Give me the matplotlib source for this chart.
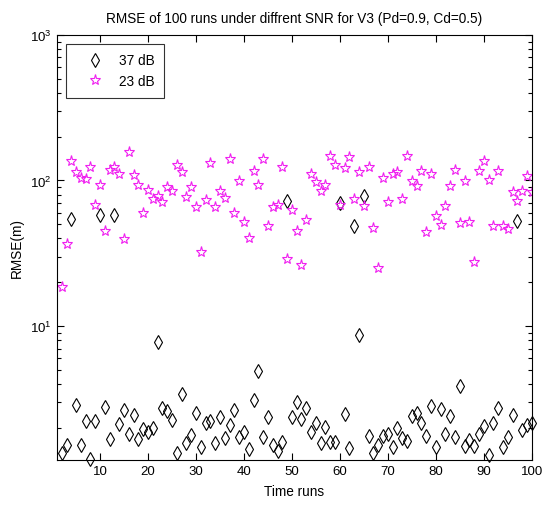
import numpy as np
import matplotlib
matplotlib.use("Agg")
import matplotlib.pyplot as plt
from matplotlib.ticker import LogLocator, FixedLocator, NullFormatter

plt.rcParams['font.family'] = ['Liberation Sans', 'DejaVu Sans']
plt.rcParams['mathtext.fontset'] = 'custom'
plt.rcParams['mathtext.rm'] = 'Liberation Sans'
plt.rcParams['mathtext.default'] = 'regular'

# run index (x=1 has no visible marker in the reference)
runs = list(range(2, 101))

# 37 dB series
rmse_37 = [1.33, 1.52, 54, 2.86, 1.52, 2.23, 1.22, 2.21, 58, 2.76,
           1.67, 58, 2.12, 2.66, 1.81, 2.45, 1.67, 1.96, 1.86, 1.98,
           7.7, 2.72, 2.62, 2.27, 1.35, 3.41, 1.58, 1.78, 2.51, 1.47,
           2.15, 2.21, 1.58, 2.38, 1.69, 2.1, 2.66, 1.72, 1.86, 1.43,
           3.1, 4.93, 1.72, 2.38, 1.52, 1.39, 1.6, 72.7, 2.36, 3.02,
           2.3, 2.72, 1.88, 2.15, 1.58, 2.01, 1.6, 1.6, 70, 2.48,
           1.44, 49, 8.67, 77.8, 1.76, 1.34, 1.52, 1.76, 1.81, 1.47,
           1.98, 1.69, 1.61, 2.42, 2.51, 2.15, 1.76, 2.8, 1.48, 2.69,
           1.81, 2.42, 1.72, 3.89, 1.5, 1.64, 1.5, 1.81, 2.04, 1.3,
           2.14, 2.72, 1.47, 1.72, 2.45, 53, 1.93, 2.09, 2.15]

# 23 dB series
rmse_23 = [18.5, 36.6, 137, 115, 104, 102, 123, 68, 93, 44.7,
           118, 124, 111, 39.6, 158, 109, 93, 60, 86.5, 74.6,
           77.9, 70.8, 89.8, 85, 128, 114, 76.5, 89.8, 65.5, 32,
           73.8, 131, 65.5, 85, 75.5, 141, 60, 98.6, 51.6, 40,
           117, 93, 141, 48.4, 65.5, 68, 123, 29, 63, 44.6,
           26.4, 53.7, 111, 97, 85, 93, 147, 128, 68, 122,
           144, 74.6, 115, 66.6, 123, 47, 25, 104, 70.8, 111,
           114, 74.6, 147, 98.6, 91, 116, 44.4, 111, 56.8, 49.5,
           66.6, 91, 118, 51, 98.6, 52, 27.4, 117, 136, 100,
           48.4, 117, 49, 46.5, 83, 72, 85, 108, 83]

labels = ['37 dB', '23 dB']
xticks = [10, 20, 30, 40, 50, 60, 70, 80, 90, 100]

fig = plt.figure(figsize=(5.42, 5.06), dpi=100)
ax = fig.add_axes([0.105, 0.089, 0.876, 0.840])

ax.semilogy(runs, rmse_37, linestyle='none', marker='d', markersize=7.5,
            markerfacecolor='none', markeredgecolor='black', markeredgewidth=0.8,
            label=labels[0], clip_on=False)
ax.semilogy(runs, rmse_23, linestyle='none', marker='*', markersize=8,
            markerfacecolor='none', markeredgecolor='#f020f0', markeredgewidth=0.8,
            label=labels[1])

ax.set_xlim(1, 100)
ax.set_ylim(1.2, 1000)
ax.xaxis.set_major_locator(FixedLocator(xticks))
ax.yaxis.set_major_locator(LogLocator(base=10, numticks=10))
ax.yaxis.set_minor_locator(LogLocator(base=10, subs=np.arange(2, 10), numticks=20))
ax.yaxis.set_minor_formatter(NullFormatter())

ax.tick_params(which='both', direction='in', top=True, right=True, labelsize=9.5,
               width=0.8, colors='black')
ax.tick_params(which='major', length=5)
ax.tick_params(which='minor', length=3)
for s in ax.spines.values():
    s.set_linewidth(0.8)

ax.set_title('RMSE of 100 runs under diffrent SNR for V3 (Pd=0.9, Cd=0.5)',
             fontsize=9.8, pad=9)
ax.set_xlabel('Time runs', fontsize=9.8, labelpad=5)
ax.set_ylabel('RMSE(m)', fontsize=9.8, labelpad=5)

leg = ax.legend(loc='upper left', fontsize=9.8, frameon=True, fancybox=False,
                edgecolor='black', borderpad=0.7, handlelength=2.8,
                handletextpad=0.4, borderaxespad=0,
                bbox_to_anchor=(0.019, 0.979))
leg.get_frame().set_linewidth(0.8)

fig.savefig('out.png', dpi=100)
